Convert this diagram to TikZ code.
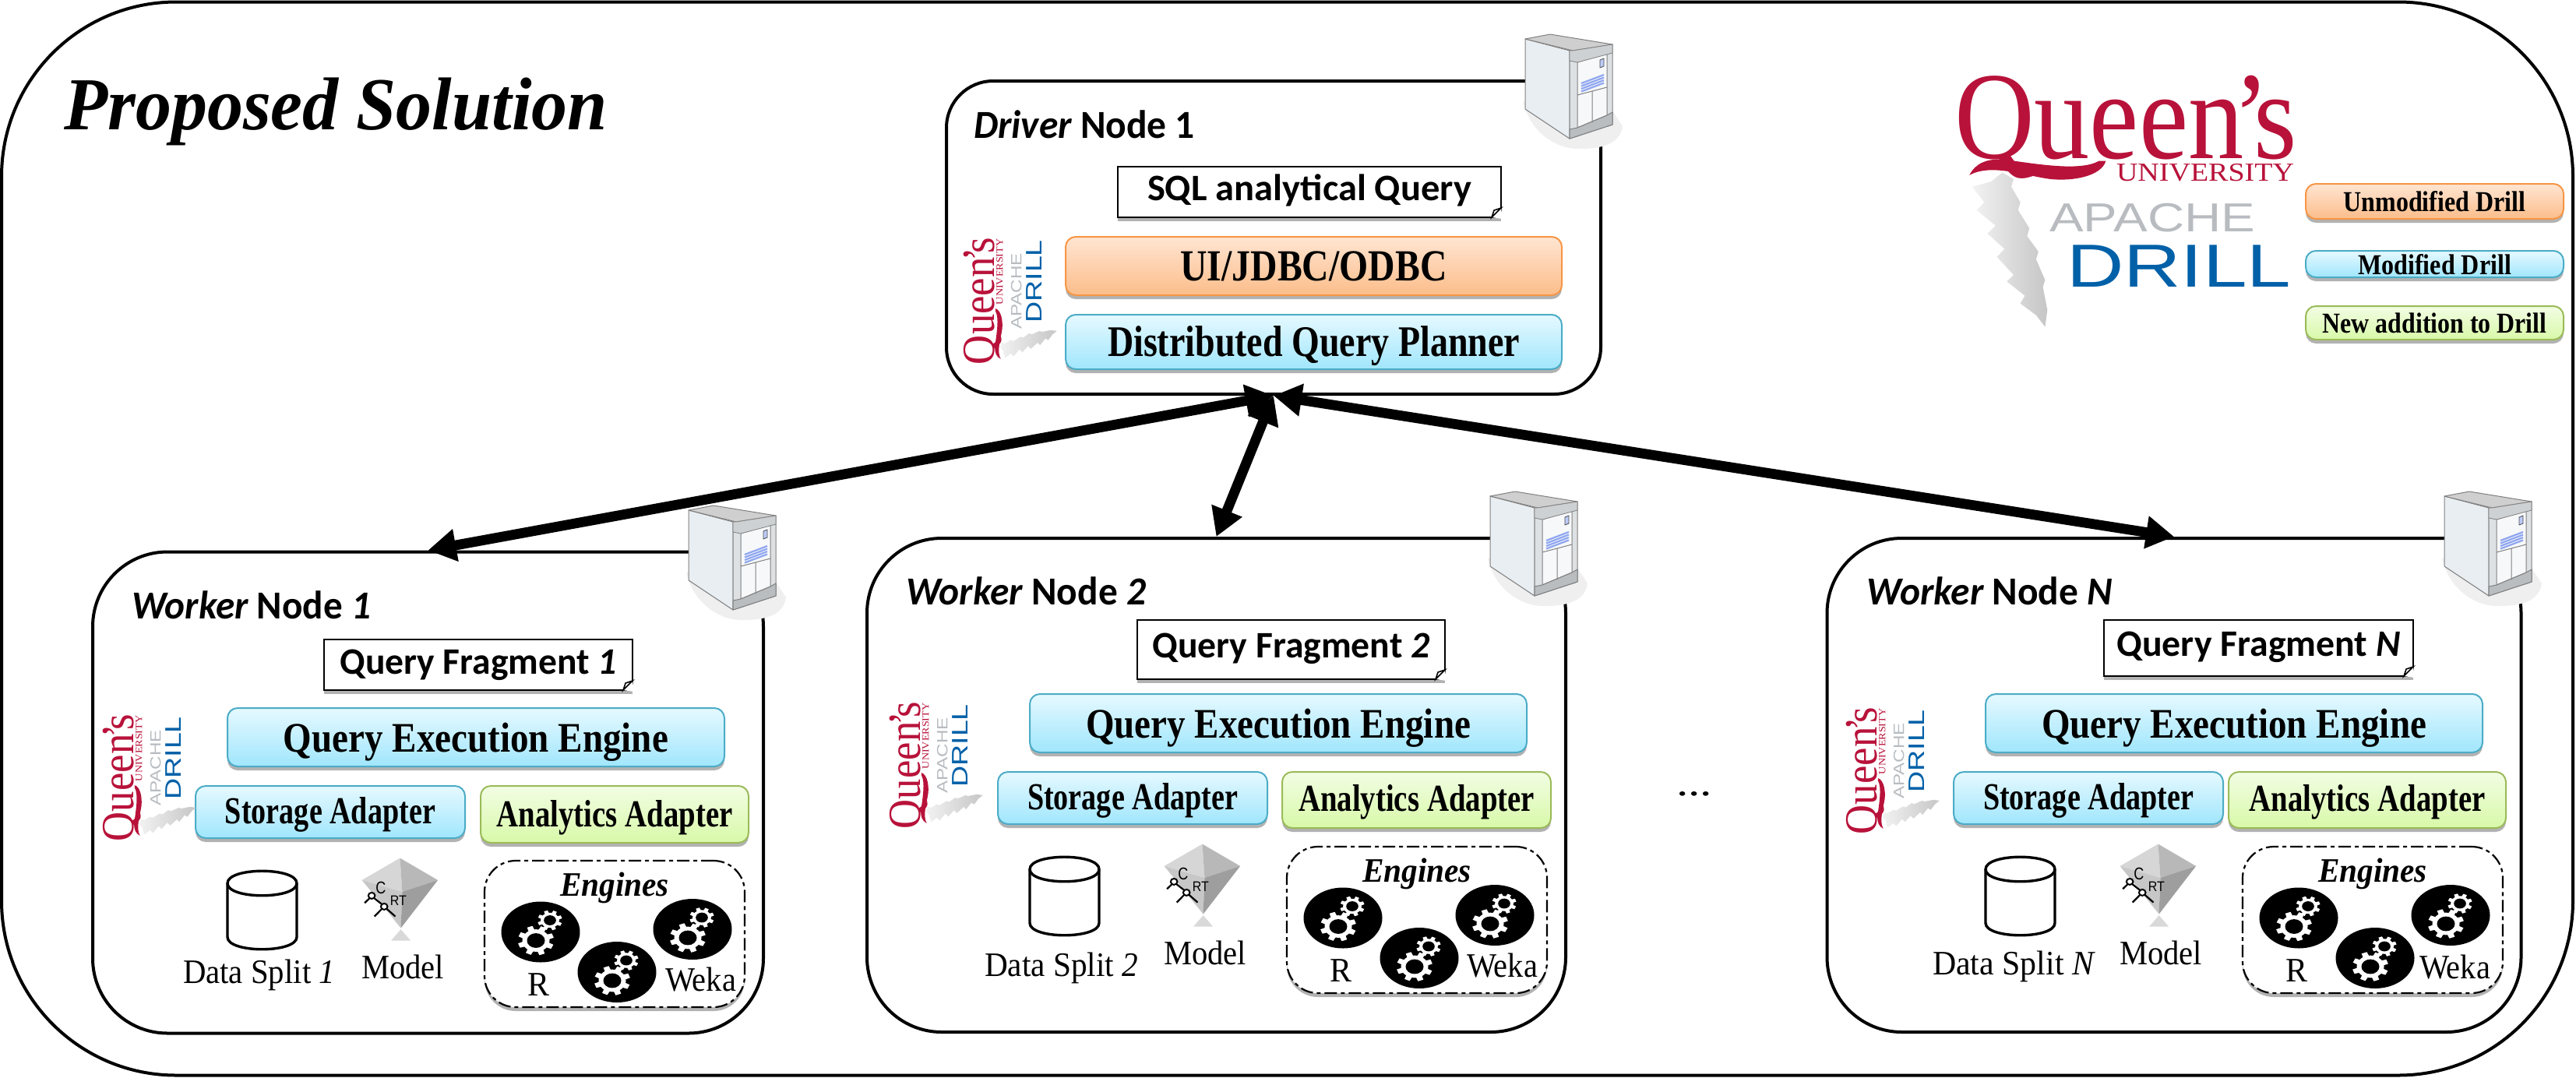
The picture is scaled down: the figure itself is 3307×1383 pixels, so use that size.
\documentclass[tikz,border=0pt]{standalone}
\usepackage{fontspec}
\usepackage{graphicx}
\setmainfont{Liberation Serif}
\newfontfamily\carl{Carlito}
\newfontfamily\arialf{Liberation Sans}
\usetikzlibrary{arrows.meta,shadows}
\definecolor{orT}{HTML}{FFE5D2}\definecolor{orB}{HTML}{FCBD8A}\definecolor{orL}{HTML}{F79646}
\definecolor{blT}{HTML}{E6F9FF}\definecolor{blB}{HTML}{A0E6FD}\definecolor{blL}{HTML}{4BACC6}
\definecolor{grT}{HTML}{F2FDE4}\definecolor{grB}{HTML}{D8F9A8}\definecolor{grL}{HTML}{9BBB59}
\definecolor{qred}{HTML}{B8123A}\definecolor{drillblue}{HTML}{0060A8}\definecolor{apgray}{HTML}{B8BCC0}
\definecolor{srvside}{HTML}{E9EEF2}\definecolor{srvtop}{HTML}{CFCFCF}\definecolor{srvfront}{HTML}{DDE1E4}
\definecolor{srvpanel}{HTML}{F6F8FA}\definecolor{srvfoot}{HTML}{B9BDC0}\definecolor{srvblue}{HTML}{8FA6F0}
\definecolor{srvshadow}{HTML}{EFEFEF}
\tikzset{
  softshadow/.style={drop shadow={shadow xshift=0pt,shadow yshift=-2.5pt,fill=black,opacity=.3}},
  colorbox/.style={draw,rounded corners=6.5pt,line width=1pt,softshadow},
  orangebox/.style={colorbox,draw=orL,top color=orT,bottom color=orB},
  bluebox/.style={colorbox,draw=blL,top color=blT,bottom color=blB},
  greenbox/.style={colorbox,draw=grL,top color=grT,bottom color=grB},
  notebox/.style={draw,line width=1.2pt,fill=white,softshadow},
  enginebox/.style={draw,rounded corners=20pt,line width=1.1pt,fill=white,softshadow,dash pattern=on 8pt off 2.5pt on 2.5pt off 2.5pt},
  panel/.style={draw,line width=2pt,fill=white,rounded corners=#1,inner sep=0pt},
  link/.style={line width=6.4pt,{Triangle[length=18pt,width=20pt]}-{Triangle[length=18pt,width=20pt]}},
  freetext/.style={anchor=base west,inner sep=0pt,outer sep=0pt},
}
\newsavebox\fitbox
\newcommand\fitt[2]{\sbox\fitbox{#2}\resizebox{\dimexpr#1pt/2\relax}{\ht\fitbox}{\usebox\fitbox}}
\newcommand\tb[2]{\fontsize{#1}{#1}\selectfont\bfseries #2}
\newcommand\rg[2]{\fontsize{#1}{#1}\selectfont #2}
\newcommand\cb[2]{\fontsize{#1}{#1}\selectfont\carl\bfseries #2}
% name, style, x1,y1,x2,y2, text baseline y, text width, text
\newcommand\bx[9]{%
  \pgfmathsetmacro\cx{(#3+#5)/2}\pgfmathsetmacro\cy{(#4+#6)/2}%
  \pgfmathsetmacro\bw{(#5-#3)*.5}\pgfmathsetmacro\bh{(#6-#4)*.5}\pgfmathsetmacro\rs{(\cy-#7)*.5}%
  \node[#2,minimum width=\bw pt,minimum height=\bh pt,text height=0pt,text depth=0pt,inner sep=0pt,outer sep=0pt] (#1) at (\cx,\cy) {\raisebox{\rs pt}{\fitt{#8}{#9}}};}
% name, x, baseline y, width, text
\newcommand\tx[5]{\node[freetext] (#1) at (#2,#3) {\fitt{#4}{#5}};}
\newcommand\fold[1]{%
  \fill[white] ([xshift=-6pt]#1.south east) -- ([yshift=6pt]#1.south east) -- ([shift={(1pt,-1pt)}]#1.south east) -- cycle;
  \draw[line width=.8pt,fill=white] ([xshift=-6pt]#1.south east) -- ([yshift=6pt]#1.south east) -- ([shift={(-4.5pt,4.5pt)}]#1.south east) -- cycle;}
\newcommand\cog[3]{\begin{scope}[shift={(#1,#2)},scale=#3,yscale=.82]
  \foreach \a in {0,45,...,315}{\fill[white,rotate=\a+20] (-3.6,-23) -- (3.6,-23) -- (5,0) -- (-5,0) -- cycle;}
  \fill[white] (0,0) circle (17.5);\fill[black] (0,0) circle (11.5);\end{scope}}
\newcommand\gearball[2]{\fill[black] (#1,#2) ellipse [x radius=50.5,y radius=39];
  \cog{#1-6}{#2+11}{1}\cog{#1+12}{#2-15}{.68}}
\newcommand\server[2]{\begin{scope}[shift={(#1,#2)},line join=round]
  \fill[srvshadow] (-3,85) .. controls (5,125) and (40,148) .. (70,147) .. controls (100,147) and (122,140) .. (125,118) -- (113,100) -- (57,120) -- cycle;
  \filldraw[fill=srvside,draw=gray,line width=.5pt] (0,6) -- (57,21) -- (57,134) -- (0,96) -- cycle;
  \filldraw[fill=srvfront,draw=gray,line width=.5pt] (57,21) -- (112,13) -- (112,116) -- (57,134) -- cycle;
  \filldraw[fill=srvpanel,draw=gray,line width=.5pt] (67,36) -- (105,24) -- (105,104) -- (67,120) -- cycle;
  \filldraw[fill=srvfoot,draw=gray,line width=.5pt] (57,122) -- (67,120) -- (105,104) -- (112,100) -- (112,116) -- (57,134) -- cycle;
  \filldraw[fill=srvtop,draw=gray,line width=.5pt] (0,6) -- (32,0) -- (112,13) -- (61,21) -- cycle;
  \filldraw[fill=srvfoot!70,draw=gray,line width=.4pt] (57,21) -- (61,21) -- (112,13) -- (112,24) -- (67,36) -- (57,34) -- cycle;
  \foreach \d in {0,3.5,7,10.5}{\draw[srvblue,line width=1.1pt] (72,63+\d) -- (101,52+\d);}
  \filldraw[fill=srvblue!60,draw=black!70,line width=.4pt] (96,33) -- (101,31) -- (101,41) -- (96,43) -- cycle;
  \draw[gray,line width=.5pt] (67,78) -- (105,68) (86,73) -- (86,113);
  \end{scope}}
\newcommand\logobody[1]{%
  \node[freetext,text=qred] (#1-qu) at (2509,203) {\fitt{440}{\fontsize{80}{80}\selectfont Queen\kern-.1em ’\kern-.14em s}};
  \node[freetext,text=qred] (#1-un) at (2717,232) {\fitt{228}{\fontsize{16.7}{17}\selectfont UNIVERSITY}};
  \node[freetext,text=apgray] (#1-ap) at (2631,297) {\fitt{264}{\fontsize{26}{26}\selectfont\arialf APACHE}};
  \node[freetext,text=drillblue] (#1-dr) at (2653,368) {\fitt{288}{\fontsize{39}{39}\selectfont\arialf DRILL}};
  \begin{scope}[shift={(2400,40)},xscale=.578,yscale=.333]
  \fill[qred] (222,555) .. controls (235,510) and (260,490) .. (300,495) .. controls (380,515) and (470,540) .. (510,500) -- (525,500) .. controls (515,560) and (450,580) .. (400,570) .. controls (340,555) and (270,510) .. (222,555) -- cycle;
  \shade[left color=gray!10,right color=gray!45] (295,545) -- (320,570) -- (315,600) -- (335,660) -- (330,690) -- (355,760) -- (350,790) -- (375,850) -- (370,880) -- (390,960) -- (385,985) -- (395,1075) -- (390,1140) -- (370,1095) -- (335,1050) -- (345,1020) -- (305,965) -- (320,940) -- (283,870) -- (300,840) -- (262,780) -- (280,750) -- (238,690) -- (255,660) -- (228,600) -- (270,580) -- cycle;
  \end{scope}}
\newcommand\smalllogo[3]{\begin{scope}[shift={(#2,#3)},rotate=90,scale=.37,transform shape,shift={(-2509,-96)}]\logobody{#1}\end{scope}}
% parts shared by workers, in the frame of worker 2
\newcommand\wparts[3]{\begin{scope}[shift={(#2,#3)}]
  \bx{#1-qee}{bluebox}{1322}{891}{1960}{966}{947}{494}{\tb{27}{Query Execution Engine}}
  \bx{#1-sto}{bluebox}{1281}{991}{1627}{1058}{1039}{270}{\tb{24.5}{Storage Adapter}}
  \draw[line width=1.7pt,fill=white] (1322,1116) -- (1322,1185) .. controls (1322,1206) and (1411,1206) .. (1411,1185) -- (1411,1116) .. controls (1411,1095) and (1322,1095) .. (1322,1116) -- cycle;
  \draw[line width=1.7pt] (1322,1116) .. controls (1322,1137) and (1411,1137) .. (1411,1116);
  \tx{#1-mod}{1494}{1238}{106}{\rg{22}{Model}}
  \begin{scope}[shift={(1450,1042)},xscale=.357,yscale=.333]
    \fill[black!15] (265,400) -- (300,443) -- (230,443) -- cycle;
    \fill[black!16] (262,125) -- (270,255) -- (125,210) -- cycle;
    \fill[black!28] (262,125) -- (398,210) -- (270,255) -- cycle;
    \fill[black!22] (125,210) -- (270,255) -- (265,395) -- cycle;
    \fill[black!38] (398,210) -- (265,395) -- (270,255) -- cycle;
    \draw[line width=1.1pt] (135,298) -- (160,272) -- (205,310) (170,350) -- (205,312) -- (245,350);
    \filldraw[fill=white,line width=1pt] (160,270) circle (12) (205,312) circle (12);
    \node[inner sep=0pt] (#1-c) at (193,240) {\fitt{13}{\fontsize{11}{11}\selectfont\arialf C}};
    \node[inner sep=0pt] (#1-rt) at (256,288) {\fitt{21}{\fontsize{9}{9}\selectfont\arialf RT}};
  \end{scope}
  \bx{#1-eng}{enginebox}{1652}{1087}{1986}{1275}{1132}{140}{\tb{22}{\itshape Engines}}
  \gearball{1724}{1178.5}\gearball{1822}{1230}\gearball{1919}{1175}
  \tx{#1-r}{1707}{1260}{28}{\rg{22}{R}}
\end{scope}}
\begin{document}
\begin{tikzpicture}[x=.5pt,y=-.5pt]
\useasboundingbox (0,0) rectangle (3307,1383);
\fill[white] (0,0) rectangle (3307,1383);
\node[panel=112pt,minimum width=1650.5pt,minimum height=689pt] (outer) at (1652.5,691.5) {};
\tx{title}{82}{166}{698}{\tb{48}{\itshape Proposed Solution}}
% legend and big logo
\logobody{big}
\bx{unmod}{orangebox}{2960}{236}{3291}{281}{271}{234}{\tb{18.5}{Unmodified Drill}}
\bx{modif}{bluebox}{2960}{322}{3291}{356}{352}{197}{\tb{18.5}{Modified Drill}}
\bx{newad}{greenbox}{2960}{393}{3291}{436}{427}{288}{\tb{18.5}{New addition to Drill}}
% driver
\node[panel=30pt,minimum width=420pt,minimum height=201pt] (driver) at (1635,305) {};
\tx{drvlab}{1250}{177}{284}{\cb{25.5}{{\itshape Driver} Node 1}}
\bx{sql}{notebox}{1435}{214}{1927}{279}{257}{416}{\cb{24}{SQL analytical Query}}
\fold{sql}
\bx{ui}{orangebox}{1368}{304}{2005}{379}{360}{342}{\tb{28.5}{UI/JDBC/ODBC}}
\bx{dqp}{bluebox}{1368}{404}{2005}{474}{457}{529}{\tb{28}{Distributed Query Planner}}
\smalllogo{dl}{1237}{468}
% worker 1
\node[panel=48pt,minimum width=430.5pt,minimum height=309pt] (w1) at (549.5,1017.5) {};
\tx{w1lab}{169}{794}{307}{\cb{25.5}{{\itshape Worker} Node {\itshape 1}}}
\bx{w1qf}{notebox}{416}{821}{812}{886}{865}{355}{\cb{24}{Query Fragment {\itshape 1}}}
\fold{w1qf}
\wparts{w1}{-1030}{18}
\bx{w1ana}{greenbox}{617}{1009}{961}{1082}{1061}{303}{\tb{24.5}{Analytics Adapter}}
\tx{w1ds}{235}{1262}{195}{\rg{22}{Data Split {\itshape 1}}}
\tx{w1wk}{854}{1272}{91}{\rg{22}{Weka}}
\smalllogo{w1l}{132}{1080}
% worker 2
\node[panel=48pt,minimum width=448.5pt,minimum height=317pt] (w2) at (1561.5,1008) {};
\tx{w2lab}{1163}{776}{308}{\cb{25.5}{{\itshape Worker} Node {\itshape 2}}}
\bx{w2qf}{notebox}{1460}{796}{1855}{872}{844}{356}{\cb{24}{Query Fragment {\itshape 2}}}
\fold{w2qf}
\wparts{w2}{0}{0}
\bx{w2ana}{greenbox}{1646}{991}{1991}{1063}{1041.5}{303}{\tb{24.5}{Analytics Adapter}}
\tx{w2ds}{1264}{1253}{197}{\rg{22}{Data Split {\itshape 2}}}
\tx{w2wk}{1883}{1254}{91}{\rg{22}{Weka}}
\smalllogo{w2l}{1142}{1064}
% worker N
\node[panel=48pt,minimum width=445.5pt,minimum height=317pt] (wn) at (2791,1008) {};
\tx{wnlab}{2396}{776}{316}{\cb{25.5}{{\itshape Worker} Node {\itshape N}}}
\bx{wnqf}{notebox}{2701}{796}{3098}{868}{842}{364}{\cb{24}{Query Fragment {\itshape N}}}
\fold{wnqf}
\wparts{wn}{1227}{0}
\bx{wnana}{greenbox}{2861}{991}{3217}{1063}{1041.5}{303}{\tb{24.5}{Analytics Adapter}}
\tx{wnds}{2481}{1251}{207}{\rg{22}{Data Split {\itshape N}}}
\tx{wnwk}{3106}{1256}{91}{\rg{22}{Weka}}
\smalllogo{wnl}{2370}{1071}
\tx{dots}{2152}{1021}{46}{\rg{24}{...}}
% connectors
\draw[link] (driver.south) -- (w1.north);
\draw[link] (driver.south) -- (w2.north);
\draw[link] (driver.south) -- (wn.north);
% servers
\server{1958}{44}\server{884}{649}\server{1913}{631}\server{3138}{631}
\end{tikzpicture}
\end{document}
